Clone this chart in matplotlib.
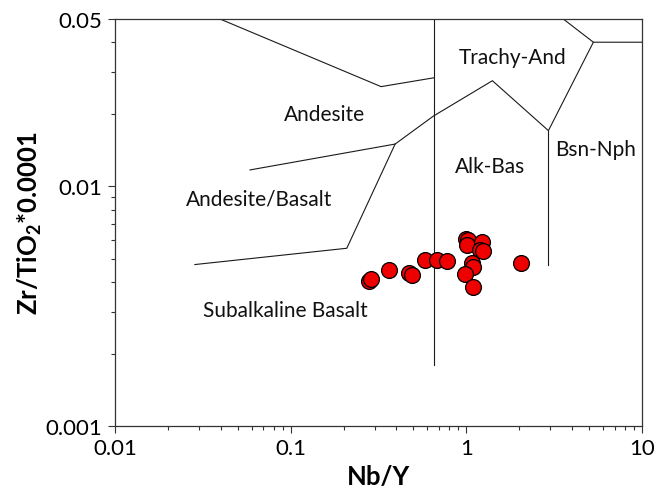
import numpy as np
import matplotlib
matplotlib.use("Agg")
import matplotlib.pyplot as plt
from matplotlib.ticker import LogLocator, NullFormatter, FixedLocator, FixedFormatter

plt.rcParams['font.family'] = ['Lato', 'DejaVu Sans']

# sample data (Nb/Y, Zr/TiO2*0.0001)
nb_y = [0.280, 0.285, 0.361, 0.473, 0.491, 0.582, 0.684, 0.779, 0.989, 1.026,
        1.005, 1.223, 1.196, 1.244, 1.073, 1.095, 0.983, 1.087, 2.04]
zr_ti = [0.00403, 0.00409, 0.00448, 0.00435, 0.00427, 0.00493, 0.00493, 0.00487,
         0.00603, 0.00600, 0.00569, 0.00588, 0.00543, 0.00540, 0.00477, 0.00460,
         0.00429, 0.00379, 0.00481]

# field boundaries (Winchester & Floyd)
bounds = [
    ([0.0396, 0.327, 0.65], [0.05, 0.0261, 0.0284]),
    ([0.65, 0.65], [0.05, 0.00179]),
    ([0.0587, 0.393, 0.65, 1.406, 2.93, 5.28, 10.0], [0.01172, 0.01503, 0.01968, 0.02763, 0.0171, 0.040, 0.040]),
    ([0.0285, 0.2086, 0.393], [0.00472, 0.00552, 0.01503]),
    ([2.93, 2.93], [0.0171, 0.00472]),
    ([3.56, 5.28], [0.05, 0.040]),
]

fields = ['Andesite', 'Trachy-And', 'Andesite/Basalt', 'Alk-Bas', 'Bsn-Nph', 'Subalkaline Basalt']
field_x = [0.156, 1.83, 0.0658, 1.363, 5.46, 0.0938]
field_y = [0.0201, 0.0346, 0.00892, 0.01221, 0.01433, 0.00305]

fig = plt.figure(figsize=(6.54, 4.89), dpi=100)
ax = fig.add_axes([0.1758, 0.1268, 0.806, 0.8323])
ax.set_xscale('log')
ax.set_yscale('log')
ax.set_xlim(0.01, 10)
ax.set_ylim(0.001, 0.05)

for xs, ys in bounds:
    ax.plot(xs, ys, color='#1a1a1a', lw=0.8, zorder=2)

for name, x, y in zip(fields, field_x, field_y):
    ax.text(x, y, name, ha='center', va='center', fontsize=15, color='#111111')

ax.scatter(nb_y, zr_ti, s=130, c='#ee0000', edgecolors='black', linewidths=0.9, zorder=3)

ax.xaxis.set_major_locator(FixedLocator([0.01, 0.1, 1, 10]))
ax.xaxis.set_major_formatter(FixedFormatter(['0.01', '0.1', '1', '10']))
ax.xaxis.set_minor_locator(LogLocator(base=10, subs=np.arange(2, 10)))
ax.xaxis.set_minor_formatter(NullFormatter())
ax.yaxis.set_major_locator(FixedLocator([0.001, 0.01, 0.05]))
ax.yaxis.set_major_formatter(FixedFormatter(['0.001', '0.01', '0.05']))
ax.yaxis.set_minor_locator(LogLocator(base=10, subs=np.arange(2, 10)))
ax.yaxis.set_minor_formatter(NullFormatter())

ax.tick_params(which='major', direction='out', length=5, width=0.8, color='#333333',
               labelsize=16, pad=4, top=False, right=False)
ax.tick_params(which='minor', direction='out', length=3, width=0.8, color='#333333',
               top=False, right=False)
for sp in ax.spines.values():
    sp.set_color('#333333')
    sp.set_linewidth(0.9)

ax.set_xlabel('Nb/Y', fontsize=18.5, fontweight='bold', labelpad=4)
ax.set_ylabel(r'Zr/TiO$_\mathregular{2}$*0.0001', fontsize=18.5, fontweight='bold', labelpad=1)

fig.savefig('out.png', dpi=100)
